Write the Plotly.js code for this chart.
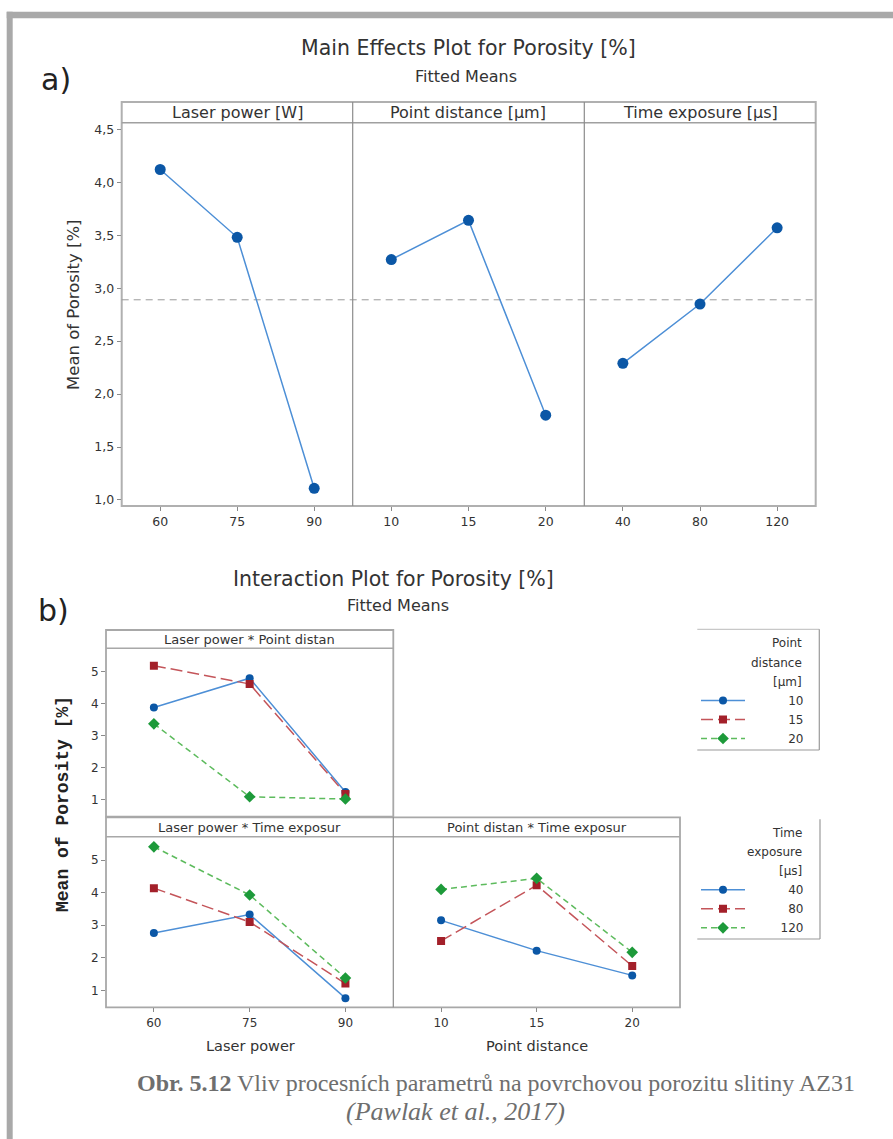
<!DOCTYPE html>
<html><head><meta charset="utf-8">
<script src="https://cdn.plot.ly/plotly-3.0.1.min.js"></script>
<style>html,body{margin:0;padding:0;background:#fff}#chart{width:893px;height:1139px}</style>
</head><body><div id="chart"></div>
<script>
// ---------- data ----------
const laserPower = ['60', '75', '90'];
const pointDistance = ['10', '15', '20'];
const timeExposure = ['40', '80', '120'];

const meanLaser = [4.12, 3.48, 1.11];
const meanPoint = [3.27, 3.64, 1.80];
const meanTime = [2.29, 2.85, 3.57];
const overallMean = 2.89;
const yTicksA = [1.0, 1.5, 2.0, 2.5, 3.0, 3.5, 4.0, 4.5];
const yTickTextA = ['1,0', '1,5', '2,0', '2,5', '3,0', '3,5', '4,0', '4,5'];

const lpPd10 = [3.88, 4.79, 1.25];
const lpPd15 = [5.18, 4.61, 1.19];
const lpPd20 = [3.37, 1.10, 1.03];
const lpTe40 = [2.76, 3.33, 0.76];
const lpTe80 = [4.14, 3.10, 1.21];
const lpTe120 = [5.41, 3.93, 1.38];
const pdTe40 = [3.15, 2.22, 1.46];
const pdTe80 = [2.52, 4.23, 1.75];
const pdTe120 = [4.10, 4.44, 2.17];
const yTicksB = [1, 2, 3, 4, 5];

const legendPD = ['10', '15', '20'];
const legendTE = ['40', '80', '120'];
const stripsA = ['Laser power [W]', 'Point distance [µm]', 'Time exposure [µs]'];
const stripsB = ['Laser power * Point distan', 'Laser power * Time exposur', 'Point distan * Time exposur'];

// ---------- helpers ----------
const W = 893, H = 1139;
const px = v => v / W;
const py = v => 1 - v / H;
const FONT = 'DejaVu Sans, Open Sans, sans-serif';
const TXT = '#333';
const FS = '\u2007'; // figure space, pads legend labels to right-align them
const padLabel = s => FS.repeat(Math.max(0, 7 - s.length)) + s;

const BLUE_M = '#0b57a6', BLUE_L = '#4d8fd6';
const RED_M = '#a3202a', RED_L = '#c4555a';
const GRN_M = '#1d9a3a', GRN_L = '#5dbb5d';

const styles = {
  blue: {line: {color: BLUE_L, width: 1.5}, marker: {symbol: 'circle', color: BLUE_M, size: 8}},
  red: {line: {color: RED_L, width: 1.5, dash: '12px,5px'}, marker: {symbol: 'square', color: RED_M, size: 8}},
  green: {line: {color: GRN_L, width: 1.5, dash: '6px,4px'}, marker: {symbol: 'diamond', color: GRN_M, size: 9}}
};

function tr(x, y, xa, ya, st, name, legend, show) {
  return Object.assign({type: 'scatter', mode: 'lines+markers', x: x, y: y, xaxis: xa, yaxis: ya,
    name: name, legend: legend, showlegend: show, hoverinfo: 'skip'}, JSON.parse(JSON.stringify(styles[st])));
}

const mainStyle = {line: {color: BLUE_L, width: 1.5}, marker: {symbol: 'circle', color: BLUE_M, size: 11}};
function mtr(x, y, xa, ya) {
  return Object.assign({type: 'scatter', mode: 'lines+markers', x: x, y: y, xaxis: xa, yaxis: ya,
    showlegend: false, hoverinfo: 'skip'}, JSON.parse(JSON.stringify(mainStyle)));
}

const data = [
  mtr(laserPower, meanLaser, 'x', 'y'),
  mtr(pointDistance, meanPoint, 'x2', 'y2'),
  mtr(timeExposure, meanTime, 'x3', 'y3'),
  tr(laserPower, lpPd10, 'x4', 'y4', 'blue', padLabel(legendPD[0]), 'legend', true),
  tr(laserPower, lpPd15, 'x4', 'y4', 'red', padLabel(legendPD[1]), 'legend', true),
  tr(laserPower, lpPd20, 'x4', 'y4', 'green', padLabel(legendPD[2]), 'legend', true),
  tr(laserPower, lpTe40, 'x5', 'y5', 'blue', padLabel(legendTE[0]), 'legend2', true),
  tr(laserPower, lpTe80, 'x5', 'y5', 'red', padLabel(legendTE[1]), 'legend2', true),
  tr(laserPower, lpTe120, 'x5', 'y5', 'green', padLabel(legendTE[2]), 'legend2', true),
  tr(pointDistance, pdTe40, 'x6', 'y6', 'blue', legendTE[0], 'legend2', false),
  tr(pointDistance, pdTe80, 'x6', 'y6', 'red', legendTE[1], 'legend2', false),
  tr(pointDistance, pdTe120, 'x6', 'y6', 'green', legendTE[2], 'legend2', false)
];

// ---------- geometry (pixels) ----------
const A = {x: [121.7, 352.7, 584.3, 815.7], top: 102, stripBot: 122.7, bot: 506};
const B = {x: [106, 393.3, 680], top1: 630, strip1: 648.3, bot1: 816.7, top2: 817.3, strip2: 836.7, bot2: 1007.3};

function xax(d0, d1, cats, showLabels, anchor, fs) {
  return {domain: [px(d0), px(d1)], anchor: anchor, type: 'category', categoryarray: cats, range: [-0.5, 2.5],
    showgrid: false, zeroline: false, showline: false, ticks: showLabels ? 'outside' : '', ticklen: 4,
    tickcolor: '#8a8a8a', showticklabels: showLabels, tickfont: {family: FONT, size: fs, color: TXT}, fixedrange: true};
}
function yax(t0, t1, range, vals, text, showLabels, anchor, fs) {
  return {domain: [py(t1), py(t0)], anchor: anchor, range: range, showgrid: false, zeroline: false, showline: false,
    ticks: showLabels ? 'outside' : '', ticklen: 4, tickcolor: '#8a8a8a', showticklabels: showLabels,
    tickvals: vals, ticktext: text, tickfont: {family: FONT, size: fs, color: TXT}, fixedrange: true};
}
const rangeA = [0.943, 4.562];
const rangeB = [0.48, 5.72];
const ticksBtxt = yTicksB.map(String);

const legendCommon = {xanchor: 'left', yanchor: 'top', bgcolor: 'rgba(0,0,0,0)', borderwidth: 0,
  font: {family: FONT, size: 12, color: TXT}, itemwidth: 44, tracegroupgap: 0, traceorder: 'normal'};

const layout = {
  width: W, height: H, margin: {l: 0, r: 0, t: 0, b: 0}, paper_bgcolor: '#fff', plot_bgcolor: 'rgba(0,0,0,0)',
  font: {family: FONT, color: TXT},
  xaxis: xax(A.x[0], A.x[1], laserPower, true, 'y', 12.5),
  xaxis2: xax(A.x[1], A.x[2], pointDistance, true, 'y2', 12.5),
  xaxis3: xax(A.x[2], A.x[3], timeExposure, true, 'y3', 12.5),
  yaxis: yax(A.stripBot, A.bot, rangeA, yTicksA, yTickTextA, true, 'x', 12.5),
  yaxis2: yax(A.stripBot, A.bot, rangeA, yTicksA, yTickTextA, false, 'x2', 12.5),
  yaxis3: yax(A.stripBot, A.bot, rangeA, yTicksA, yTickTextA, false, 'x3', 12.5),
  xaxis4: xax(B.x[0], B.x[1], laserPower, false, 'y4', 12),
  yaxis4: yax(B.strip1, B.bot1, rangeB, yTicksB, ticksBtxt, true, 'x4', 12),
  xaxis5: xax(B.x[0], B.x[1], laserPower, true, 'y5', 12),
  yaxis5: yax(B.strip2, B.bot2, rangeB, yTicksB, ticksBtxt, true, 'x5', 12),
  xaxis6: xax(B.x[1], B.x[2], pointDistance, true, 'y6', 12),
  yaxis6: yax(B.strip2, B.bot2, rangeB, yTicksB, ticksBtxt, false, 'x6', 12),
  legend: Object.assign({x: px(696), y: py(686)}, legendCommon),
  legend2: Object.assign({x: px(696), y: py(875.3)}, legendCommon),
  shapes: [],
  annotations: []
};

const S = layout.shapes, N = layout.annotations;
function line(x0, y0, x1, y1, color, w, dash) {
  S.push({type: 'line', xref: 'paper', yref: 'paper', x0: px(x0), x1: px(x1), y0: py(y0), y1: py(y1),
    line: {color: color, width: w || 1, dash: dash || 'solid'}, layer: 'above'});
}
function rect(x0, y0, x1, y1, color, w, fill) {
  S.push({type: 'rect', xref: 'paper', yref: 'paper', x0: px(x0), x1: px(x1), y0: py(y1), y1: py(y0),
    line: {color: color, width: w || 0}, fillcolor: fill || 'rgba(0,0,0,0)', layer: 'below'});
}
function text(x, y, t, size, opts) {
  N.push(Object.assign({xref: 'paper', yref: 'paper', x: px(x), y: py(y), text: t, showarrow: false,
    xanchor: 'center', yanchor: 'middle', font: {family: FONT, size: size, color: TXT}}, opts || {}));
}

// outer gray frame
rect(6.7, 11.7, 893, 18.3, '#a9a9a9', 0, '#a9a9a9');
rect(6.7, 11.7, 12.7, 1139, '#a9a9a9', 0, '#a9a9a9');

// panel a frame
rect(A.x[0], A.top, A.x[3], A.bot, '#b0b0b0', 2);
line(A.x[0], A.stripBot, A.x[3], A.stripBot, '#a0a0a0', 1.5);
line(A.x[1], A.top, A.x[1], A.bot, '#8c8c8c', 1.2);
line(A.x[2], A.top, A.x[2], A.bot, '#8c8c8c', 1.2);
// overall mean reference line (y in data units)
S.push({type: 'line', xref: 'paper', yref: 'y', x0: px(A.x[0]), x1: px(A.x[3]), y0: overallMean, y1: overallMean,
  line: {color: '#9a9a9a', width: 1, dash: '7px,5px'}, layer: 'below'});

// panel b frames
rect(B.x[0], B.top1, B.x[1], B.bot1, '#a8a8a8', 1.8);
line(B.x[0], B.strip1, B.x[1], B.strip1, '#a8a8a8', 1.5);
rect(B.x[0], B.top2, B.x[2], B.bot2, '#a8a8a8', 1.8);
line(B.x[0], B.strip2, B.x[2], B.strip2, '#a8a8a8', 1.5);
line(B.x[1], B.top2, B.x[1], B.bot2, '#8c8c8c', 1.2);

// legend boxes
line(697.3, 629.3, 819.3, 629.3, '#c8c8c8', 1.2);
line(819.3, 629.3, 819.3, 750, '#9a9a9a', 1.2);
line(697.3, 750, 819.3, 750, '#9a9a9a', 1.2);
line(820, 819.3, 820, 939, '#9a9a9a', 1.2);
line(697.3, 939, 820, 939, '#9a9a9a', 1.2);

// titles
text(468, 48, 'Main Effects Plot for Porosity [%]', 20.5);
text(466, 76, 'Fitted Means', 16);
text(56, 80, 'a)', 30, {font: {family: FONT, size: 30, color: '#222'}});
text(393, 579, 'Interaction Plot for Porosity [%]', 20.5);
text(398, 605, 'Fitted Means', 16);
text(53, 610, 'b)', 30, {font: {family: FONT, size: 30, color: '#222'}});

// strips
for (let i = 0; i < 3; i++) text((A.x[i] + A.x[i + 1]) / 2, 112.5, stripsA[i], 16);
text((B.x[0] + B.x[1]) / 2, 639, stripsB[0], 13);
text((B.x[0] + B.x[1]) / 2, 827, stripsB[1], 13);
text((B.x[1] + B.x[2]) / 2, 827, stripsB[2], 13);

// axis titles
text(74, 305, 'Mean of Porosity [%]', 16.5, {textangle: -90});
text(63, 804, 'Mean of Porosity [%]', 18, {textangle: -90, font: {family: 'Liberation Mono, Courier New, monospace', size: 18, color: '#222', weight: 'bold'}});
text(250, 1046, 'Laser power', 14.5);
text(537, 1046, 'Point distance', 14.5);

// legend titles (right aligned)
['Point', 'distance', '[µm]'].forEach((t, i) => text(804, 643.3 + i * 19.2, t, 12, {xanchor: 'right'}));
['Time', 'exposure', '[µs]'].forEach((t, i) => text(804, 832.5 + i * 19.3, t, 12, {xanchor: 'right'}));

// caption
const CAP = 'Liberation Serif, Times New Roman, serif';
text(496, 1083, '<b>Obr. 5.12</b> Vliv procesních parametrů na povrchovou porozitu slitiny AZ31', 24,
  {font: {family: CAP, size: 24, color: '#6e6e6e'}});
text(455, 1111, '<i>(Pawlak et al., 2017)</i>', 26, {font: {family: CAP, size: 26, color: '#6e6e6e'}});

Plotly.newPlot('chart', data, layout, {displayModeBar: false, staticPlot: true});
</script>
</body></html>
